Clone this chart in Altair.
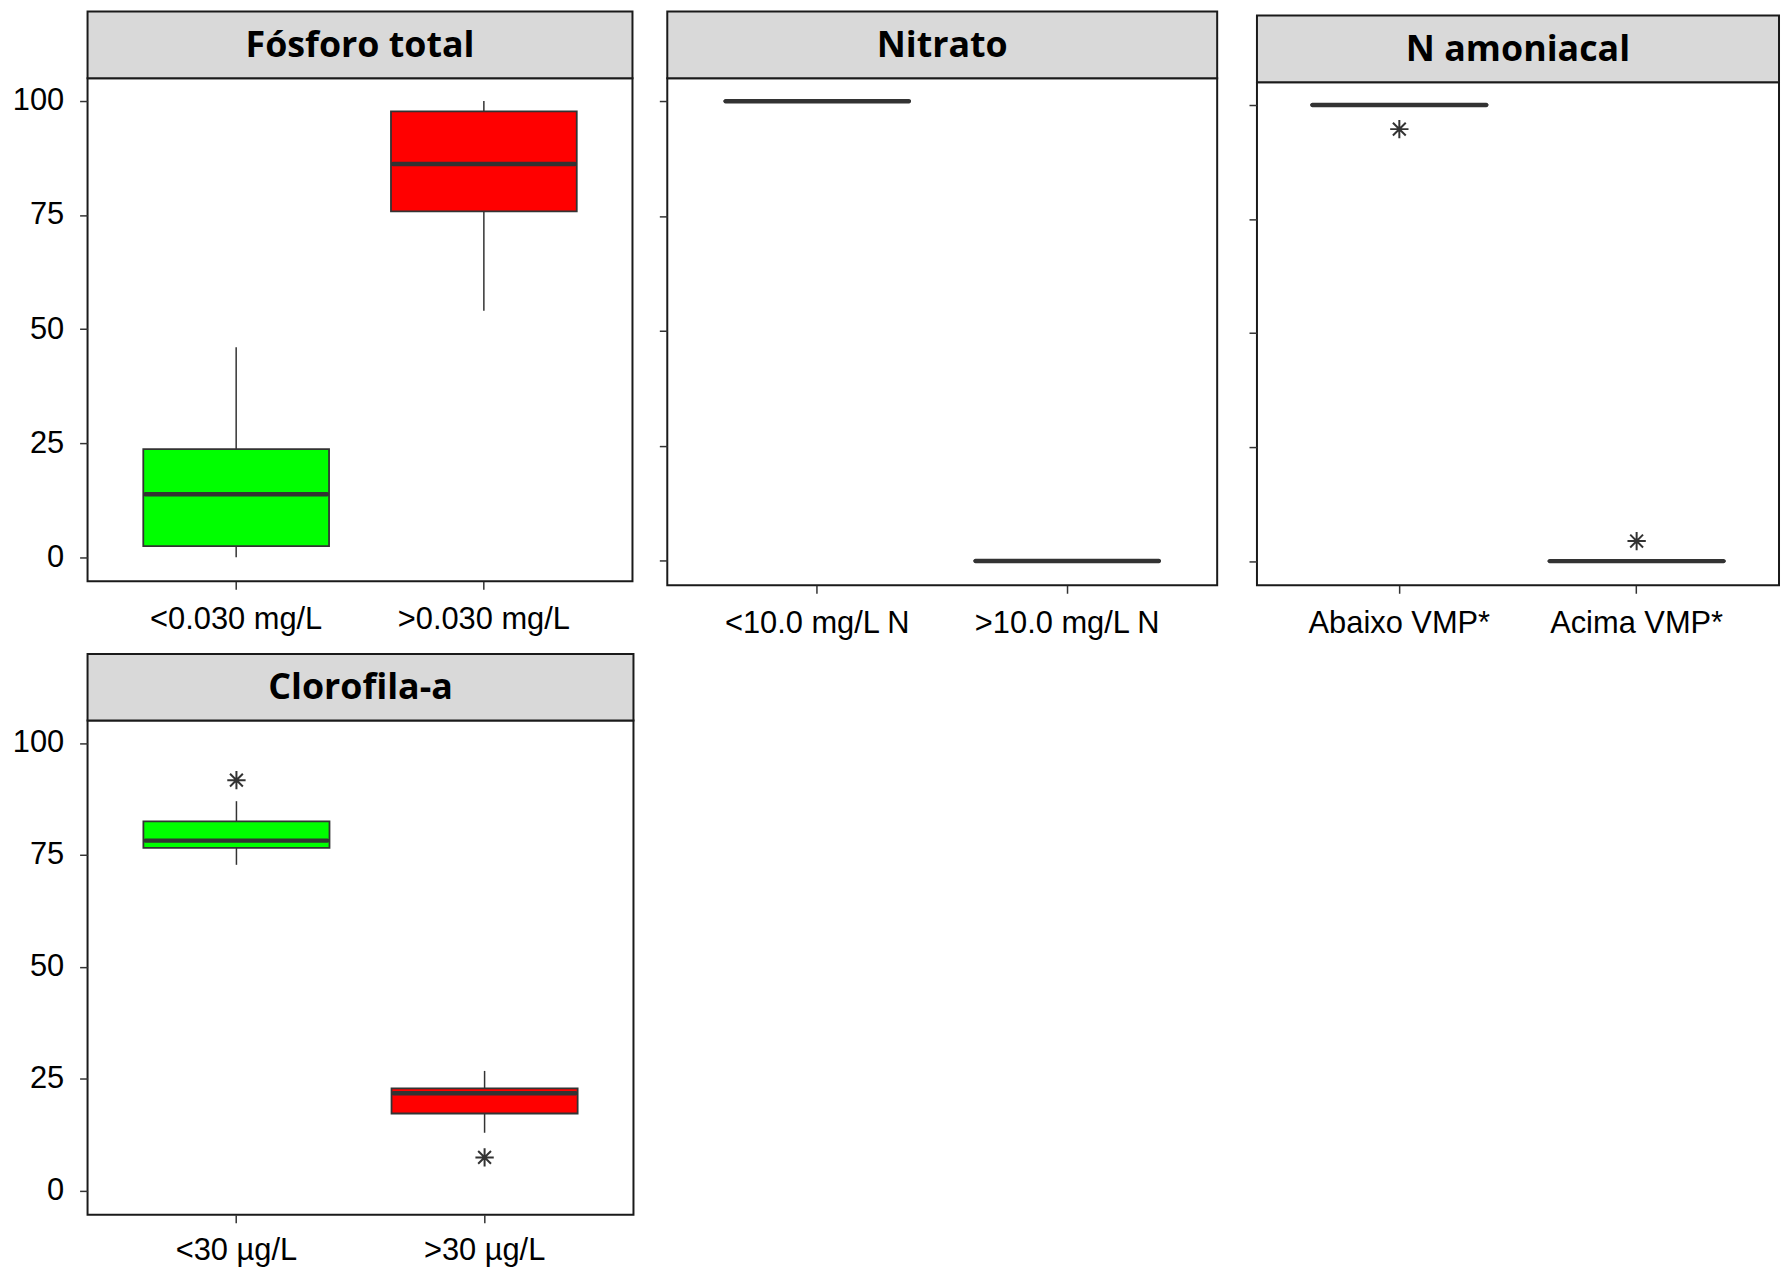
import altair as alt
import pandas as pd

# ---------------- data ----------------
panel_titles = ["Fósforo total", "Nitrato", "N amoniacal", "Clorofila-a"]
categories = [
    ["<0.030 mg/L", ">0.030 mg/L"],
    ["<10.0 mg/L N", ">10.0 mg/L N"],
    ["Abaixo VMP*", "Acima VMP*"],
    ["<30 µg/L", ">30 µg/L"],
]
whisker_low = [[0.0, 54.0], [100, 0], [100, 0], [72.8, 13.0]]
q1 = [[2.4, 75.8], [100, 0], [100, 0], [76.6, 17.3]]
median = [[13.8, 86.2], [100, 0], [100, 0], [78.2, 21.8]]
q3 = [[23.7, 97.7], [100, 0], [100, 0], [82.5, 22.9]]
whisker_high = [[46.0, 100], [100, 0], [100, 0], [87.0, 26.8]]
outlier_panel = [2, 2, 3, 3]
outlier_group = [0, 1, 0, 1]
outlier_value = [94.7, 4.4, 91.7, 7.5]
y_ticks = [0, 25, 50, 75, 100]

# ---------------- styles ----------------
GREEN = "#00FF00"
RED = "#FF0000"
DARK = "#333333"
STRIP_H = 67
LABEL_FONT = "Liberation Sans"
ASTERISK = "M0,-1L0,1M-1,0L1,0M-0.7,-0.7L0.7,0.7M-0.7,0.7L0.7,-0.7"


def make_panel(i, W, H, show_y_labels, x_label_pad=15):
    cats = categories[i]
    df = pd.DataFrame({
        "cat": cats,
        "lo": whisker_low[i],
        "q1": q1[i],
        "med": median[i],
        "q3": q3[i],
        "hi": whisker_high[i],
    })
    xenc = alt.X(
        "cat:N", sort=cats, title=None,
        scale=alt.Scale(type="band", paddingInner=0.25, paddingOuter=0.225),
        axis=alt.Axis(labelAngle=0, labelFont=LABEL_FONT, labelFontSize=31,
                      labelColor="#000000", labelPadding=x_label_pad, tickSize=8,
                      tickColor=DARK, tickWidth=1.5, domain=False, grid=False,
                      labelOverlap=False, labelLimit=500),
    )
    yscale = alt.Scale(domain=[-5.3, 105], nice=False, zero=False)
    yaxis = alt.Axis(values=y_ticks, labels=show_y_labels, labelFont=LABEL_FONT,
                     labelFontSize=31, labelColor="#000000", labelPadding=16,
                     tickSize=8, tickColor=DARK, tickWidth=1.5, domain=False,
                     grid=False)

    def Y(field):
        return alt.Y(field, scale=yscale, axis=yaxis, title=None)

    base = alt.Chart(df)
    whisk = base.mark_rule(color=DARK, strokeWidth=1.5).encode(
        x=xenc, y=Y("lo:Q"), y2="hi:Q")
    box = base.mark_rect(stroke=DARK, strokeWidth=1.8).encode(
        x=xenc, y=Y("q1:Q"), y2="q3:Q",
        fill=alt.Fill("cat:N", scale=alt.Scale(domain=cats, range=[GREEN, RED]),
                      legend=None))
    bw = 0.75 * W / 2.2
    med = base.mark_tick(color=DARK, thickness=4.5, size=bw,
                         orient="horizontal", opacity=1, cornerRadius=2).encode(
        x=xenc, y=Y("med:Q"))

    sd = alt.Data(values=[{"t": panel_titles[i]}])
    strip_rect = alt.Chart(sd).mark_rect(
        fill="#D9D9D9", stroke="#1a1a1a", strokeWidth=2, clip=False).encode(
        x=alt.value(0), x2=alt.value(W), y=alt.value(-STRIP_H), y2=alt.value(0))
    strip_txt = alt.Chart(sd).mark_text(
        font="Open Sans", fontSize=36, fontWeight="bold", color="#000000",
        baseline="middle", align="center", clip=False).encode(
        x=alt.value(W / 2), y=alt.value(-STRIP_H / 2 + 1), text="t:N")

    layers = [strip_rect, strip_txt, whisk, box, med]

    ocats = [categories[i][g] for p, g in zip(outlier_panel, outlier_group) if p == i]
    ovals = [v for p, v in zip(outlier_panel, outlier_value) if p == i]
    if ovals:
        od = pd.DataFrame({"cat": ocats, "v": ovals})
        pts = alt.Chart(od).mark_point(
            shape=ASTERISK, filled=False, size=340, color=DARK,
            strokeWidth=2, opacity=1).encode(x=xenc, y=Y("v:Q"))
        layers.append(pts)

    return alt.layer(*layers).properties(width=W, height=H)


def spacer(W, h):
    d = alt.Data(values=[{"t": ""}])
    return alt.Chart(d).mark_rule(opacity=0).encode(
        x=alt.value(0), x2=alt.value(1), y=alt.value(0), y2=alt.value(1)).properties(
        width=W, height=h, view=alt.ViewBackground(stroke="transparent"))


p1 = make_panel(0, 548, 506, True)
p2 = make_panel(1, 553, 510, False)
p3 = make_panel(2, 525, 506, False)
p4 = make_panel(3, 549, 497, True, x_label_pad=13)

c1 = alt.vconcat(spacer(548, 1), p1, spacing=0)
c2 = alt.vconcat(spacer(553, 1), p2, spacing=0)
c3 = alt.vconcat(spacer(525, 5), p3, spacing=0)

row1 = alt.hconcat(c1, alt.hconcat(c2, c3, spacing=28), spacing=23)
chart = alt.vconcat(row1, p4, spacing=13).properties(
    padding={"left": 3, "top": -5, "right": 0, "bottom": 0},
    background="white",
).configure_view(stroke="#1a1a1a", strokeWidth=2)

chart.save("out.html", embed_options={"renderer": "svg", "actions": False})
